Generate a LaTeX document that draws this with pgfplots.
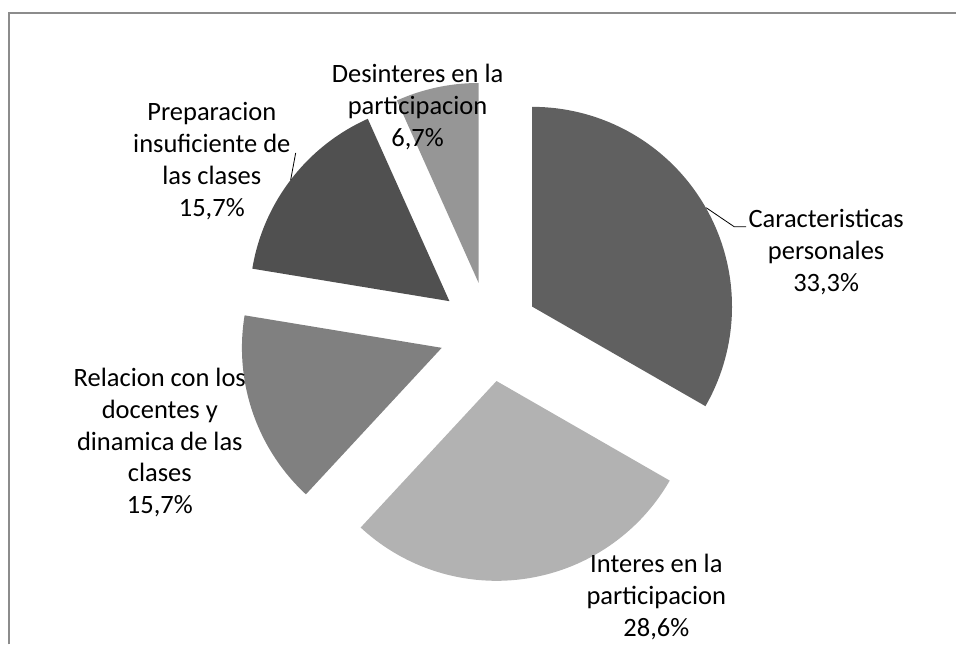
\documentclass[border=0pt]{standalone}
\usepackage{pgfplots}
\pgfplotsset{compat=1.18}
\usepackage{fontspec}
\setmainfont{Carlito}
\definecolor{cCar}{HTML}{606060}
\definecolor{cInt}{HTML}{B2B2B2}
\definecolor{cRel}{HTML}{808080}
\definecolor{cPrep}{HTML}{505050}
\definecolor{cDes}{HTML}{969696}
\definecolor{frame}{HTML}{8C8C8C}
% centre of the pie, radius and explode distance (axis units = px)
\newcommand{\pcx}{489.5}
\newcommand{\pcy}{313}
\newcommand{\prad}{200}
\newcommand{\pexp}{50}
% #1 cumulative percent before the slice, #2 percent of slice, #3 colour
\newcommand{\pieslice}[3]{%
  \pgfmathsetmacro{\aS}{90-3.6*#1}%
  \pgfmathsetmacro{\aE}{90-3.6*(#1+#2)}%
  \pgfmathsetmacro{\aM}{(\aS+\aE)/2}%
  \pgfmathsetmacro{\cx}{\pcx+\pexp*cos(\aM)}%
  \pgfmathsetmacro{\cy}{\pcy+\pexp*sin(\aM)}%
  \edef\temp{\noexpand\addplot[draw=none, fill=#3, domain=\aE:\aS, samples=90]
    ({\cx+\prad*cos(x)}, {\cy+\prad*sin(x)}) -- (axis cs:\cx,\cy) -- cycle;}%
  \temp
}
\begin{document}
\begin{tikzpicture}
\begin{axis}[
  width=957bp, height=645bp, scale only axis,
  xmin=0, xmax=957, ymin=0, ymax=645,
  hide axis, clip=false,
]
\path (axis cs:0,0) rectangle (axis cs:957,645);
% values: 33.3, 28.6, 15.7, 15.7, 6.7 (clockwise from 12 o'clock)
\pieslice{0}{33.3}{cCar}
\pieslice{33.3}{28.6}{cInt}
\pieslice{61.9}{15.7}{cRel}
\pieslice{77.6}{15.7}{cPrep}
\pieslice{93.3}{6.7}{cDes}
\draw[frame, line width=2bp] (axis cs:9,0) -- (axis cs:9,632) -- (axis cs:957,632);
\draw[black, line width=0.8bp] (axis cs:707,437) -- (axis cs:735,418) -- (axis cs:747,418);
\draw[black, line width=0.8bp] (axis cs:296,492) -- (axis cs:291,465);
\tikzset{lbl/.style={align=center, inner sep=0pt, text=black,
  font=\fontsize{26.5bp}{32bp}\selectfont}}
\node[lbl] at (axis cs:827,393) {Caracteristicas\\personales\\33,3\%};
\node[lbl] at (axis cs:657,47) {Interes en la\\participacion\\28,6\%};
\node[lbl] at (axis cs:160,202) {Relacion con los\\docentes y\\dinamica de las\\clases\\15,7\%};
\node[lbl] at (axis cs:212,484) {Preparacion\\insuficiente de\\las clases\\15,7\%};
\node[lbl] at (axis cs:418,538) {Desinteres en la\\participacion\\6,7\%};
\end{axis}
\end{tikzpicture}
\end{document}
